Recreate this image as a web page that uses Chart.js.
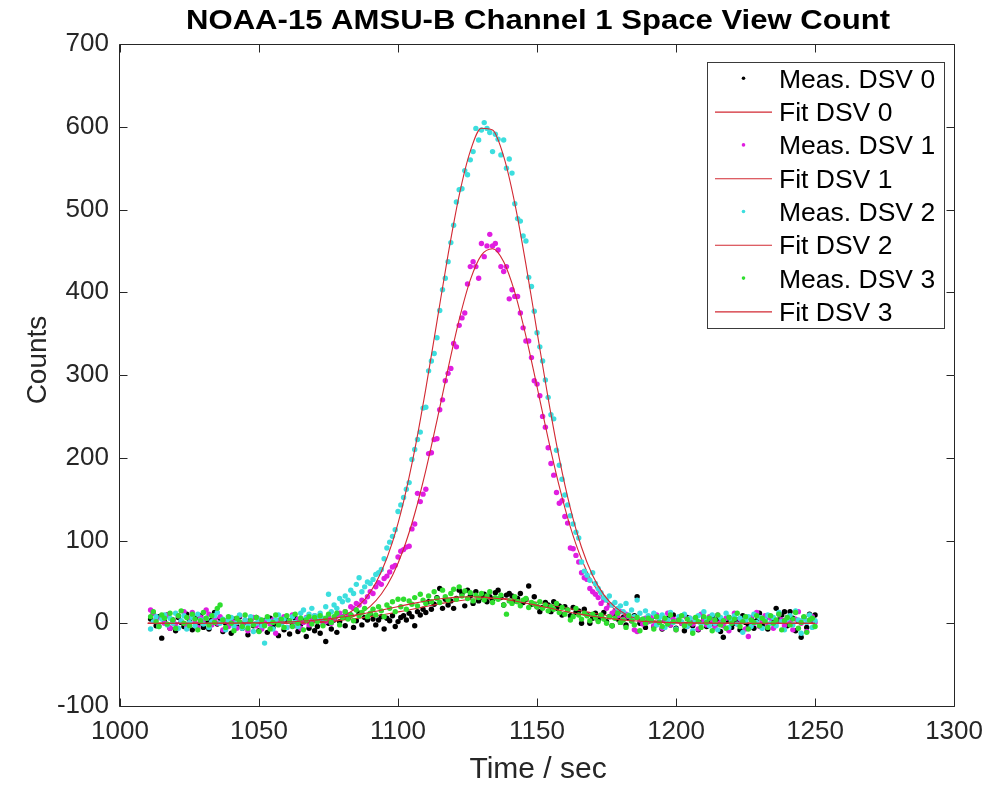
<!DOCTYPE html>
<html>
<head>
<meta charset="utf-8">
<script src="https://cdn.jsdelivr.net/npm/chart.js@4.4.1/dist/chart.umd.min.js"></script>
<style>
  html, body { margin: 0; padding: 0; background: #ffffff; }
  #wrap { width: 993px; height: 785px; position: relative; }
</style>
</head>
<body>
<div id="wrap"><canvas id="c" width="993" height="785"></canvas></div>
<script>
// ---------------- DATA ----------------
const TITLE = 'NOAA-15 AMSU-B Channel 1 Space View Count';
const X_LABEL = 'Time / sec';
const Y_LABEL = 'Counts';
const X_TICKS = [1000, 1050, 1100, 1150, 1200, 1250, 1300];
const Y_TICKS = [-100, 0, 100, 200, 300, 400, 500, 600, 700];
const SERIES_LABELS = ['Meas. DSV 0', 'Fit DSV 0', 'Meas. DSV 1', 'Fit DSV 1',
                       'Meas. DSV 2', 'Fit DSV 2', 'Meas. DSV 3', 'Fit DSV 3'];

// measurement times (sec)
const TIME = [
1011,1012,1013,1014,1015,1016,1017,1018,1019,1020,1021,1022,1023,1024,1025,1026,1027,1028,1029,1030,
1031,1032,1033,1034,1035,1036,1037,1038,1039,1040,1041,1042,1043,1044,1045,1046,1047,1048,1049,1050,
1051,1052,1053,1054,1055,1056,1057,1058,1059,1060,1061,1062,1063,1064,1065,1066,1067,1068,1069,1070,
1071,1072,1073,1074,1075,1076,1077,1078,1079,1080,1081,1082,1083,1084,1085,1086,1087,1088,1089,1090,
1091,1092,1093,1094,1095,1096,1097,1098,1099,1100,1101,1102,1103,1104,1105,1106,1107,1108,1109,1110,
1111,1112,1113,1114,1115,1116,1117,1118,1119,1120,1121,1122,1123,1124,1125,1126,1127,1128,1129,1130,
1131,1132,1133,1134,1135,1136,1137,1138,1139,1140,1141,1142,1143,1144,1145,1146,1147,1148,1149,1150,
1151,1152,1153,1154,1155,1156,1157,1158,1159,1160,1161,1162,1163,1164,1165,1166,1167,1168,1169,1170,
1171,1172,1173,1174,1175,1176,1177,1178,1179,1180,1181,1182,1183,1184,1185,1186,1187,1188,1189,1190,
1191,1192,1193,1194,1195,1196,1197,1198,1199,1200,1201,1202,1203,1204,1205,1206,1207,1208,1209,1210,
1211,1212,1213,1214,1215,1216,1217,1218,1219,1220,1221,1222,1223,1224,1225,1226,1227,1228,1229,1230,
1231,1232,1233,1234,1235,1236,1237,1238,1239,1240,1241,1242,1243,1244,1245,1246,1247,1248,1249,1250
];

const MEAS_DSV0 = [
5,12,-3,8,-18,2,10,-6,4,-9,7,1,-4,11,3,-8,6,-2,9,-5,
2,-7,4,13,-1,6,-10,0,3,-12,5,-4,8,-6,1,-14,4,-3,7,-9,
-2,3,-11,6,-5,0,-15,2,-8,4,-13,-3,6,-10,-1,3,-16,-6,2,-9,
-4,-12,5,-22,0,-7,4,-11,2,8,-3,6,10,-5,3,12,-2,7,4,11,
5,-2,4,8,-7,6,3,9,-4,2,7,9,4,12,8,-3,14,10,17,13,
26,17,23,31,42,18,29,22,27,18,30,40,36,21,40,33,24,38,27,31,
35,26,32,29,37,40,31,22,34,36,33,27,30,36,25,29,45,23,32,20,
14,19,25,22,14,26,18,21,10,20,16,9,19,13,15,0,17,10,0,6,
12,4,9,13,2,8,-3,10,5,1,7,-2,6,3,9,32,0,4,-5,2,
5,-4,8,1,-7,3,6,-2,10,-6,4,0,-9,7,2,-3,5,-8,1,6,
-4,3,8,-2,5,-10,-17,2,7,-5,0,4,-8,9,1,-3,6,-6,3,12,
-2,5,-7,8,2,18,4,10,14,-3,14,6,-9,3,-17,7,-5,11,2,10
];

const MEAS_DSV1 = [
16,12,5,-3,8,0,10,-6,3,-1,9,2,14,-4,6,13,1,-5,7,4,
16,11,-2,5,0,8,-8,3,-4,6,1,-6,9,-2,4,-9,2,7,-3,5,
-7,2,6,-1,4,-12,3,0,8,-5,2,10,-3,5,-6,1,7,-2,4,9,
3,6,-1,2,7,0,5,9,12,8,14,10,20,18,24,22,28,26,32,38,
36,44,49,47,54,57,62,68,70,80,87,89,92,93,114,120,157,147,156,162,
205,206,222,223,258,270,293,302,308,338,334,360,369,375,410,431,437,431,417,459,
443,456,470,456,459,451,431,425,431,392,403,395,395,375,357,341,341,321,293,289,
275,250,237,212,193,179,158,145,148,129,121,91,90,82,74,61,55,53,42,38,
35,31,24,28,18,22,12,15,9,14,5,11,8,3,-8,-10,4,-1,6,2,
7,-3,10,1,-6,4,12,-2,5,-8,3,0,9,-4,6,-1,2,-7,11,4,
-2,8,3,-5,10,1,-3,6,-9,4,12,-1,5,2,-7,-16,7,0,13,-4,
3,9,-2,6,-6,1,11,4,-3,7,2,-8,5,14,0,6,-10,3,8,1
];

const MEAS_DSV2 = [
-7,2,8,-4,5,10,-2,6,0,12,-6,3,9,-7,1,7,-3,11,4,-1,
6,-5,2,9,13,0,5,-8,3,7,-4,1,10,-6,4,-2,8,-10,0,5,
-3,-24,6,2,-7,4,10,-1,5,-5,3,8,1,-4,12,16,6,11,18,9,
8,12,6,20,35,14,22,18,30,26,33,28,40,36,47,55,38,44,50,48,
53,59,61,65,78,91,98,105,113,135,143,152,162,170,198,210,222,231,260,261,
305,317,326,345,378,403,417,437,460,481,509,524,525,547,542,560,570,598,584,596,
605,598,593,570,591,585,566,584,550,561,544,507,489,486,468,462,418,407,377,351,
334,317,294,273,252,247,209,191,174,155,143,130,120,110,103,74,63,58,52,61,
48,42,37,31,28,33,22,25,18,21,14,24,10,16,8,28,12,5,15,9,
3,12,-2,7,10,-5,4,13,1,-7,8,2,11,-4,6,-9,3,9,-1,14,
5,-3,10,0,-8,7,2,12,-5,4,9,-1,6,-11,3,8,-4,11,1,7,
-6,4,10,0,7,-3,13,2,-8,5,9,-2,15,4,-12,6,1,10,-5,3
];

const MEAS_DSV3 = [
8,14,2,-4,10,6,-1,12,4,-6,9,15,0,7,-3,11,5,-8,3,13,
6,-2,9,1,18,22,4,-5,8,0,-9,6,2,-4,10,-6,3,-2,7,-10,
4,-3,8,-7,1,10,-2,5,-5,9,3,-4,11,0,6,-8,4,8,-1,7,
2,9,-3,6,11,1,8,12,-2,7,14,5,10,3,16,9,13,18,8,12,
17,10,20,15,8,22,18,26,14,29,20,29,17,27,23,31,21,35,28,24,
33,26,38,30,25,40,32,28,36,41,29,44,33,39,30,37,27,34,31,36,
28,33,38,25,31,29,34,22,11,27,24,32,26,21,28,30,19,25,23,20,
26,18,22,15,20,17,24,13,19,11,16,4,8,18,10,5,12,9,3,11,
7,2,10,5,0,8,-3,6,12,1,4,-5,9,3,-2,7,-9,5,0,6,
3,-7,8,1,-4,6,-1,10,2,-8,4,9,-3,5,0,-12,7,2,-5,8,
1,6,-9,4,10,-2,3,-6,7,0,5,12,-4,2,8,-7,4,1,9,-3,
6,2,-5,9,0,4,11,-8,3,7,-2,5,13,-6,1,8,-11,4,6,-4
];

// fitted curves, sampled every 4 s
const FIT_TIME = [
1010,1014,1018,1022,1026,1030,1034,1038,1042,1046,
1050,1054,1058,1062,1066,1070,1074,1078,1082,1086,
1090,1094,1098,1102,1106,1110,1114,1118,1122,1126,
1130,1134,1138,1142,1146,1150,1154,1158,1162,1166,
1170,1174,1178,1182,1186,1190,1194,1198,1202,1206,
1210,1214,1218,1222,1226,1230,1234,1238,1242,1246,1250
];
const FIT_DSV0 = [
0,0,0,0.005,0.01,0.02,0.03,0.05,0.09,0.15,
0.24,0.37,0.57,0.86,1.26,1.8,2.5,3.5,4.7,6.2,
8.0,10.0,12.3,14.9,17.5,20.2,22.8,25.2,27.2,28.7,
29.7,30,29.7,28.7,27.2,25.2,22.8,20.2,17.5,14.9,
12.3,10.0,8.0,6.2,4.7,3.5,2.5,1.8,1.26,0.86,
0.57,0.37,0.24,0.15,0.09,0.05,0.03,0.02,0.01,0.005,0
];
const FIT_DSV1 = [
0,0,0,0,0,0,0,0,0,0,
0,0,0,0,0.3,0.6,1.4,2.9,5.9,11.3,
20.5,35.3,57.8,89.8,132.3,184.8,244.9,307.8,366.9,414.9,
444.9,452.6,436.8,399.8,347.0,285.8,223.2,165.4,116.2,77.5,
49.0,29.4,16.7,9.0,4.6,2.2,1.0,0.4,0.2,0,
0,0,0,0,0,0,0,0,0,0,0
];
const FIT_DSV2 = [
0,0,0,0,0,0,0,0,0,0,
0,0,0,0.2,0.6,1.4,3.0,6.0,11.7,21.5,
37.5,62.2,98.1,147.1,209.4,283.5,364.5,445.5,517.2,570.6,
598.2,596.0,564.1,507.4,433.6,352.2,271.8,199.3,138.8,91.9,
57.8,34.6,19.7,10.6,5.4,2.7,1.2,0.5,0.2,0,
0,0,0,0,0,0,0,0,0,0,0
];
const FIT_DSV3 = [
0,0,0.01,0.02,0.03,0.06,0.1,0.16,0.26,0.4,
0.6,0.9,1.3,1.9,2.7,3.7,5.0,6.6,8.5,10.7,
13.2,15.8,18.7,21.6,24.3,26.8,29.0,30.6,31.6,32,
31.6,30.6,29.0,26.8,24.3,21.6,18.7,15.8,13.2,10.7,
8.5,6.6,5.0,3.7,2.7,1.9,1.3,0.9,0.6,0.4,
0.26,0.16,0.1,0.06,0.03,0.02,0.01,0,0,0,0
];

// ---------------- STYLE ----------------
const FONT = '"Liberation Sans", Arial, Helvetica, sans-serif';
const AXIS_COLOR = '#262626';
const FIT_COLOR = 'rgb(210,40,50)';
const MEAS_COLORS = ['#000000', '#e01ee0', '#3cdede', '#2fde2f'];
const TICK_LEN = 8;

const pts = (xs, ys) => xs.map((x, i) => ({ x: x, y: ys[i] }));
const measSets = [MEAS_DSV0, MEAS_DSV1, MEAS_DSV2, MEAS_DSV3];
const fitSets = [FIT_DSV0, FIT_DSV1, FIT_DSV2, FIT_DSV3];

const datasets = [];
for (let k = 0; k < 4; k++) {
  datasets.push({
    label: SERIES_LABELS[2 * k],
    data: pts(TIME, measSets[k]),
    showLine: false,
    pointRadius: 2.7,
    pointHoverRadius: 0,
    pointBorderWidth: 0,
    pointBackgroundColor: MEAS_COLORS[k],
    backgroundColor: MEAS_COLORS[k],
    borderColor: MEAS_COLORS[k],
    order: 8 - 2 * k
  });
  datasets.push({
    label: SERIES_LABELS[2 * k + 1],
    data: pts(FIT_TIME, fitSets[k]),
    showLine: true,
    pointRadius: 0,
    pointHoverRadius: 0,
    borderColor: FIT_COLOR,
    borderWidth: 1.1,
    cubicInterpolationMode: 'monotone',
    fill: false,
    order: 7 - 2 * k
  });
}

// frame, inward ticks, titles, legend
const decor = {
  id: 'decor',
  afterDraw(chart) {
    const { ctx, chartArea: a, scales: { x, y } } = chart;
    ctx.save();
    const L = Math.round(a.left) - 0.5, R = Math.round(a.right) + 0.5;
    const T = Math.round(a.top) + 0.5, B = Math.round(a.bottom) + 0.5;
    ctx.strokeStyle = AXIS_COLOR;
    ctx.lineWidth = 1;
    ctx.beginPath();
    ctx.rect(L, T, R - L, B - T);
    x.ticks.forEach(t => {
      const p = Math.round(x.getPixelForValue(t.value)) + 0.5;
      ctx.moveTo(p, B); ctx.lineTo(p, B - TICK_LEN);
      ctx.moveTo(p, T); ctx.lineTo(p, T + TICK_LEN);
    });
    y.ticks.forEach(t => {
      const p = Math.round(y.getPixelForValue(t.value)) + 0.5;
      ctx.moveTo(L, p); ctx.lineTo(L + TICK_LEN, p);
      ctx.moveTo(R, p); ctx.lineTo(R - TICK_LEN, p);
    });
    ctx.stroke();

    // title
    ctx.fillStyle = '#000000';
    ctx.font = 'bold 27px ' + FONT;
    ctx.textAlign = 'center';
    ctx.textBaseline = 'alphabetic';
    const tw = ctx.measureText(TITLE).width;
    ctx.save();
    ctx.translate((a.left + a.right) / 2 + 1, 28.5);
    ctx.scale(704 / tw, 1);
    ctx.fillText(TITLE, 0, 0);
    ctx.restore();

    // axis titles
    ctx.fillStyle = AXIS_COLOR;
    ctx.font = '30px ' + FONT;
    ctx.fillText(X_LABEL, (a.left + a.right) / 2 + 1, 778);
    ctx.save();
    ctx.translate(46, 360);
    ctx.rotate(-Math.PI / 2);
    ctx.font = '28px ' + FONT;
    ctx.fillText(Y_LABEL, 0, 0);
    ctx.restore();

    // legend
    const bx = 707.5, by = 62.5, bw = 237, bh = 266;
    ctx.fillStyle = '#ffffff';
    ctx.fillRect(bx, by, bw, bh);
    ctx.strokeStyle = '#3a3a3a';
    ctx.lineWidth = 1;
    ctx.strokeRect(bx, by, bw, bh);
    ctx.font = '26.5px ' + FONT;
    ctx.textAlign = 'left';
    chart.data.datasets.forEach((ds, i) => {
      const cy = 78.3 + 33.3 * i;
      if (ds.showLine) {
        ctx.strokeStyle = ds.borderColor;
        ctx.lineWidth = 1.1;
        ctx.beginPath();
        ctx.moveTo(715, cy + 0.5); ctx.lineTo(772, cy + 0.5);
        ctx.stroke();
      } else {
        ctx.fillStyle = ds.pointBackgroundColor;
        ctx.beginPath();
        ctx.arc(743.5, cy, 1.8, 0, Math.PI * 2);
        ctx.fill();
      }
      ctx.fillStyle = '#000000';
      ctx.fillText(ds.label, 779, cy + 9.5);
    });
    ctx.restore();
  }
};

Chart.defaults.font.family = FONT;

new Chart(document.getElementById('c'), {
  type: 'scatter',
  data: { datasets: datasets },
  options: {
    responsive: false,
    animation: false,
    devicePixelRatio: 1,
    events: [],
    layout: { padding: { left: 0, right: 34, top: 44, bottom: 0 } },
    plugins: { legend: { display: false }, title: { display: false }, tooltip: { enabled: false } },
    scales: {
      x: {
        type: 'linear',
        min: X_TICKS[0], max: X_TICKS[X_TICKS.length - 1],
        afterBuildTicks: s => { s.ticks = X_TICKS.map(v => ({ value: v })); },
        afterFit: s => { s.height = 79; },
        grid: { display: false, drawTicks: false },
        border: { display: false },
        ticks: {
          color: AXIS_COLOR, padding: 10, maxRotation: 0, autoSkip: false,
          font: { size: 26, family: FONT },
          callback: v => String(v)
        }
      },
      y: {
        type: 'linear',
        min: Y_TICKS[0], max: Y_TICKS[Y_TICKS.length - 1],
        afterBuildTicks: s => { s.ticks = Y_TICKS.map(v => ({ value: v })); },
        afterFit: s => { s.width = 120; },
        grid: { display: false, drawTicks: false },
        border: { display: false },
        ticks: {
          color: AXIS_COLOR, padding: 11, autoSkip: false,
          font: { size: 26, family: FONT },
          callback: v => String(v)
        }
      }
    }
  },
  plugins: [decor]
});
</script>
</body>
</html>
